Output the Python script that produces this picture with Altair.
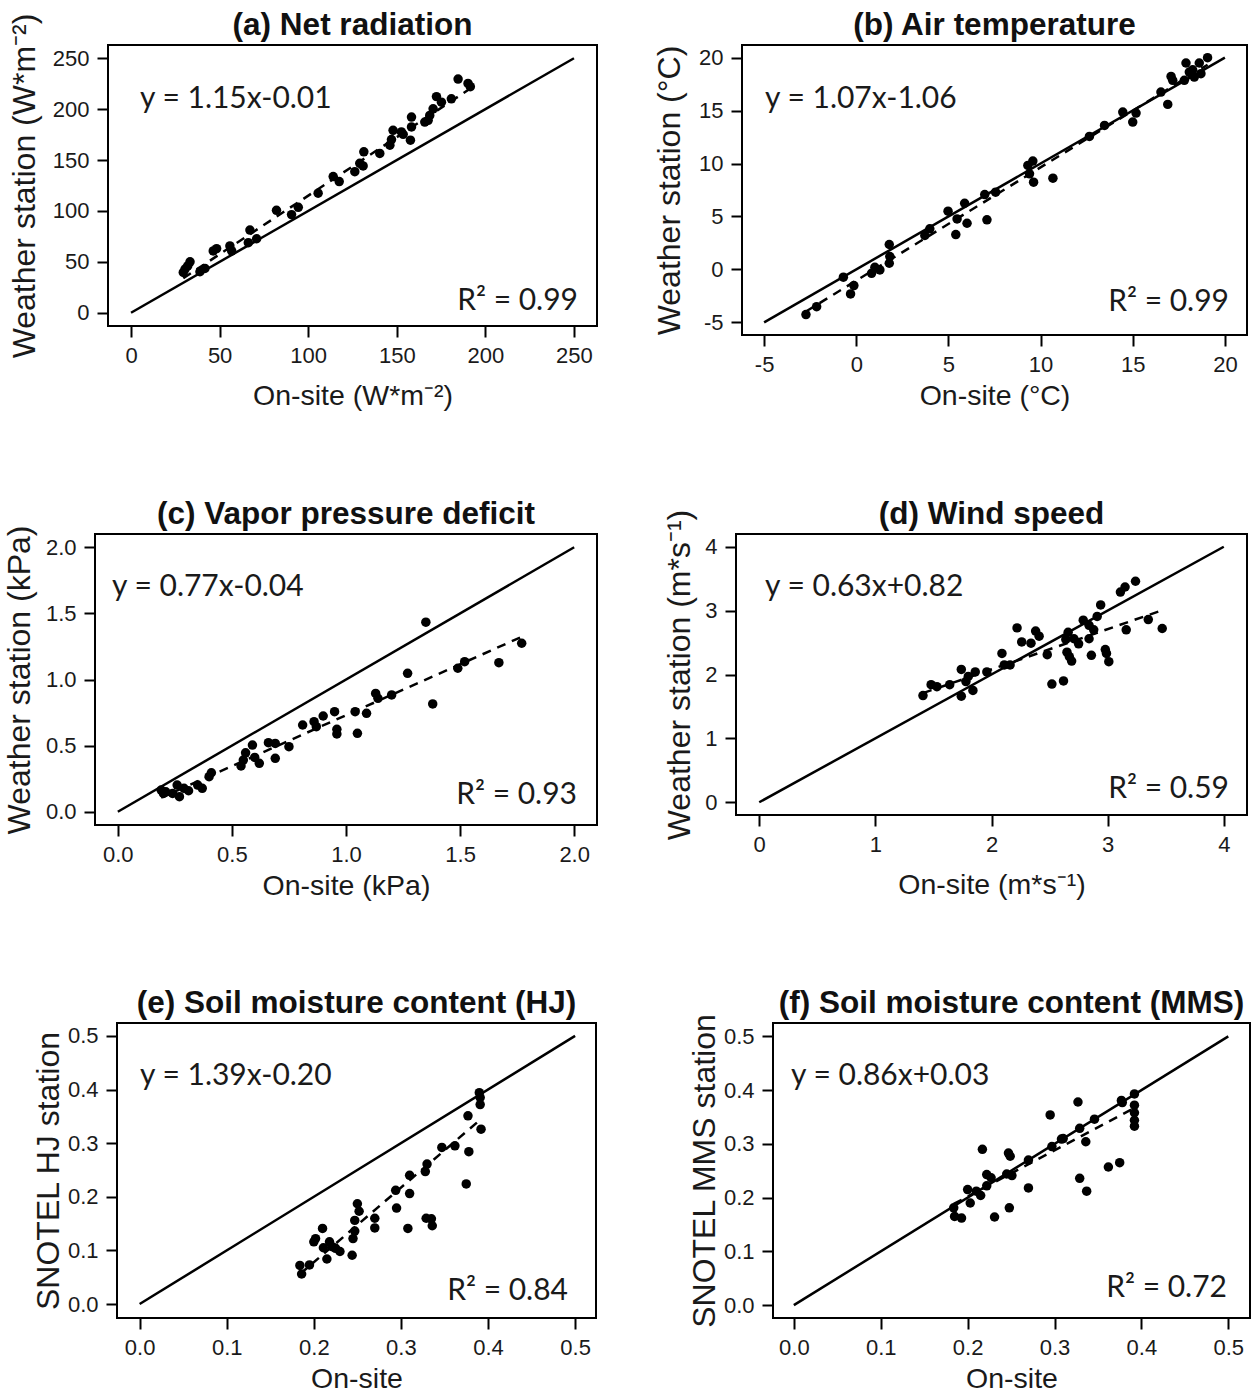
import altair as alt
import pandas as pd

FONT = "Liberation Sans"
EQ_FONT = "Lato"

# ---------------- data ----------------
a_on = [29.5, 30.5, 32, 33.3, 38.9, 41.7, 46.4, 48.3, 55.8, 56.8, 66.2, 67.1, 70.9, 82.1, 90.6, 94.4,
        105.6, 114.1, 117.5, 126.3, 129.1, 131, 131.4, 140.4, 146.1, 147, 147.9, 152.6, 153.6, 157.7,
        158.3, 158.3, 165.8, 167.7, 168.6, 170.5, 172.4, 175.2, 180.8, 184.6, 190.2, 191.5]
a_ws = [39.6, 42.9, 46, 50, 40.3, 43.5, 60.7, 63, 65.6, 60.7, 68.8, 81.2, 72.7, 100.6, 96.4, 103.6,
        117.5, 133.8, 128.9, 138.6, 146.8, 144.2, 158.1, 156.5, 164.6, 170.1, 179.2, 177.6, 175.3, 169.5,
        182.5, 192.2, 187.3, 189, 193.8, 200.3, 212.3, 206.8, 210.1, 229.5, 225.3, 222.1]

b_on = [-2.73, -2.15, -0.70, -0.31, -0.13, 0.83, 1.01, 1.28, 1.79, 1.82, 1.79, 3.72, 3.99, 4.98, 5.40,
        5.47, 5.88, 6.01, 6.97, 7.09, 7.56, 9.31, 9.40, 9.58, 9.62, 10.67, 12.65, 13.47, 14.46, 15.00,
        15.18, 16.53, 16.90, 17.08, 17.17, 17.80, 18.07, 18.25, 18.34, 17.89, 18.61, 18.70, 19.06]
b_ws = [-4.27, -3.52, -0.74, -2.32, -1.53, -0.37, 0.20, -0.05, 2.35, 1.21, 0.58, 3.20, 3.83, 5.50, 3.29,
        4.77, 6.25, 4.36, 7.07, 4.68, 7.29, 9.82, 9.03, 10.23, 8.24, 8.62, 12.56, 13.60, 14.86, 13.92,
        14.77, 16.75, 15.59, 18.23, 17.86, 17.86, 18.64, 18.86, 18.17, 19.50, 19.50, 18.49, 20.0]

c_on = [0.19, 0.20, 0.21, 0.24, 0.26, 0.27, 0.29, 0.31, 0.35, 0.37, 0.40, 0.41, 0.54, 0.55, 0.56, 0.59,
        0.62, 0.60, 0.66, 0.69, 0.69, 0.75, 0.81, 0.86, 0.87, 0.90, 0.95, 0.96, 0.96, 1.04, 1.05, 1.09,
        1.13, 1.14, 1.20, 1.27, 1.35, 1.38, 1.49, 1.52, 1.67, 1.77]
c_ws = [0.164, 0.139, 0.151, 0.139, 0.202, 0.114, 0.177, 0.159, 0.202, 0.177, 0.265, 0.295, 0.346, 0.391,
        0.446, 0.504, 0.366, 0.411, 0.522, 0.517, 0.404, 0.492, 0.656, 0.681, 0.643, 0.724, 0.757, 0.623,
        0.588, 0.757, 0.593, 0.744, 0.895, 0.858, 0.883, 1.047, 1.433, 0.815, 1.085, 1.135, 1.127, 1.274]

d_on = [1.41, 1.48, 1.53, 1.64, 1.74, 1.74, 1.78, 1.80, 1.84, 1.86, 1.96, 2.09, 2.11, 2.16, 2.22, 2.26,
        2.34, 2.38, 2.41, 2.48, 2.52, 2.62, 2.64, 2.66, 2.65, 2.67, 2.69, 2.71, 2.75, 2.79, 2.84, 2.84,
        2.86, 2.88, 2.91, 2.94, 2.98, 2.99, 3.01, 3.11, 3.15, 3.24, 3.16, 3.35, 3.47]
d_ws = [1.67, 1.84, 1.81, 1.84, 2.08, 1.66, 1.89, 1.97, 1.75, 2.04, 2.04, 2.33, 2.15, 2.15, 2.73, 2.51,
        2.49, 2.68, 2.60, 2.31, 1.85, 1.90, 2.55, 2.66, 2.35, 2.28, 2.21, 2.56, 2.48, 2.85, 2.77, 2.56,
        2.30, 2.70, 2.91, 3.09, 2.39, 2.33, 2.20, 3.29, 3.37, 3.46, 2.70, 2.86, 2.72]

e_on = [0.184, 0.186, 0.195, 0.200, 0.202, 0.210, 0.211, 0.215, 0.218, 0.221, 0.225, 0.230, 0.244, 0.245,
        0.247, 0.247, 0.250, 0.252, 0.270, 0.270, 0.295, 0.294, 0.308, 0.310, 0.310, 0.328, 0.330, 0.329,
        0.336, 0.335, 0.347, 0.362, 0.375, 0.377, 0.378, 0.390, 0.391, 0.391, 0.392]
e_ws = [0.072, 0.056, 0.073, 0.116, 0.122, 0.141, 0.105, 0.084, 0.116, 0.107, 0.104, 0.098, 0.091, 0.122,
        0.136, 0.156, 0.187, 0.173, 0.142, 0.160, 0.179, 0.212, 0.141, 0.206, 0.240, 0.247, 0.261, 0.160,
        0.146, 0.159, 0.292, 0.295, 0.224, 0.351, 0.284, 0.394, 0.385, 0.372, 0.326]

f_on = [0.184, 0.185, 0.193, 0.200, 0.203, 0.210, 0.215, 0.222, 0.222, 0.227, 0.217, 0.231, 0.245, 0.247,
        0.249, 0.248, 0.251, 0.270, 0.270, 0.295, 0.297, 0.308, 0.310, 0.327, 0.329, 0.329, 0.336, 0.337,
        0.346, 0.362, 0.375, 0.377, 0.378, 0.392, 0.392, 0.392, 0.392, 0.392]
f_ws = [0.181, 0.165, 0.162, 0.215, 0.190, 0.212, 0.204, 0.222, 0.243, 0.237, 0.290, 0.164, 0.244, 0.283,
        0.277, 0.181, 0.241, 0.270, 0.218, 0.354, 0.295, 0.309, 0.310, 0.378, 0.329, 0.236, 0.304, 0.212,
        0.346, 0.257, 0.265, 0.381, 0.377, 0.393, 0.372, 0.358, 0.344, 0.333]

titles = ["(a) Net radiation", "(b) Air temperature", "(c) Vapor pressure deficit",
          "(d) Wind speed", "(e) Soil moisture content (HJ)", "(f) Soil moisture content (MMS)"]
x_titles = ["On-site (W*m\u207b\u00b2)", "On-site (\u00b0C)", "On-site (kPa)",
            "On-site (m*s\u207b\u00b9)", "On-site", "On-site"]
y_titles = ["Weather station (W*m\u207b\u00b2)", "Weather station (\u00b0C)", "Weather station (kPa)",
            "Weather station (m*s\u207b\u00b9)", "SNOTEL HJ station", "SNOTEL MMS station"]
slopes = [1.15, 1.07, 0.77, 0.63, 1.39, 0.86]
intercepts = [-0.01, -1.06, -0.04, 0.82, -0.20, 0.03]
eq_texts = ["y = 1.15x-0.01", "y = 1.07x-1.06", "y = 0.77x-0.04",
            "y = 0.63x+0.82", "y = 1.39x-0.20", "y = 0.86x+0.03"]
r2_texts = ["R\u00b2 = 0.99", "R\u00b2 = 0.99", "R\u00b2 = 0.93",
            "R\u00b2 = 0.59", "R\u00b2 = 0.84", "R\u00b2 = 0.72"]
tick_values = [[0, 50, 100, 150, 200, 250], [-5, 0, 5, 10, 15, 20], [0.0, 0.5, 1.0, 1.5, 2.0],
               [0, 1, 2, 3, 4], [0.0, 0.1, 0.2, 0.3, 0.4, 0.5], [0.0, 0.1, 0.2, 0.3, 0.4, 0.5]]
one_to_one = [[0, 250], [-5, 20], [0, 2], [0, 4], [0, 0.5], [0, 0.5]]

# ---------------- layout / style (pixels) ----------------
domains = [[-13, 263], [-6.2, 21.2], [-0.1, 2.1], [-0.2, 4.2], [-0.026, 0.524], [-0.024, 0.525]]
formats = ["d", "d", ".1f", "d", ".1f", ".1f"]
sizes = [(489, 281), (505, 290), (502, 291), (511, 281), (479, 295), (477, 295)]
# extra empty room left of the frame (left column shares one origin)
extras = [13, 0, 0, 0, 22, 0]
eq_pos = [(32, 54), (23, 54), (17, 53), (29, 53), (23, 53), (18, 53)]
r2_pos = [(470, 256), (487, 257), (482, 261), (493, 255), (451, 268), (454, 265)]
y_title_x = [-74, -63, -66, -47, -59, -59]
x_title_pad = [15, 6, 6, 15, 6, 6]
# invisible layout anchors: (left, top, bottom or None) offsets from the view origin
anchors = [(-95, -45, 439), (-134, -45, None), (-95, -50, 441),
           (-128, -50, None), (-95, -48, None), (-165, -48, None)]

xs = [a_on, b_on, c_on, d_on, e_on, f_on]
ys = [a_ws, b_ws, c_ws, d_ws, e_ws, f_ws]


def spacer(x, y, baseline):
    return alt.Chart(pd.DataFrame({"t": ["."]})).mark_text(
        align="left", baseline=baseline, fontSize=1, opacity=0
    ).encode(text="t:N", x=alt.value(x), y=alt.value(y))


def panel(i):
    lo_d, hi_d = domains[i]
    w, h = sizes[i]
    ex = extras[i]
    vw = w + ex
    xdom = [lo_d - ex * (hi_d - lo_d) / w, hi_d]

    pts = pd.DataFrame({"x": xs[i], "y": ys[i]})
    lo, hi = one_to_one[i]
    ident = pd.DataFrame({"x": [lo, hi], "y": [lo, hi]})
    x0, x1 = min(xs[i]), max(xs[i])
    fit = pd.DataFrame({"x": [x0, x1],
                        "y": [slopes[i] * x0 + intercepts[i], slopes[i] * x1 + intercepts[i]]})

    lab = "replace(datum.label, '\u2212', '-')"
    X = alt.X("x:Q", scale=alt.Scale(domain=xdom, nice=False, zero=False),
              axis=alt.Axis(values=tick_values[i], format=formats[i], title=x_titles[i],
                            titlePadding=x_title_pad[i], labelExpr=lab, titleX=ex + w / 2))
    Y = alt.Y("y:Q", scale=alt.Scale(domain=[lo_d, hi_d], nice=False, zero=False),
              axis=alt.Axis(values=tick_values[i], format=formats[i], title=y_titles[i],
                            titleX=y_title_x[i], titleBaseline="alphabetic", labelExpr=lab,
                            titleFontSize=32, offset=-ex))

    frame = alt.Chart(pd.DataFrame({"k": [0]})).mark_rect(
        fillOpacity=0, stroke="black", strokeWidth=2
    ).encode(x=alt.value(ex), x2=alt.value(ex + w), y=alt.value(0), y2=alt.value(h))
    l_id = alt.Chart(ident).mark_line(color="black", strokeWidth=2.5).encode(x=X, y=Y)
    l_fit = alt.Chart(fit).mark_line(color="black", strokeWidth=2.5,
                                     strokeDash=[9, 7]).encode(x=X, y=Y)
    l_pts = alt.Chart(pts).mark_circle(color="black", size=90, opacity=1).encode(x=X, y=Y)
    eq = alt.Chart(pd.DataFrame({"t": [eq_texts[i]]})).mark_text(
        font=EQ_FONT, fontSize=30, align="left", baseline="middle", color="#1a1a1a"
    ).encode(text="t:N", x=alt.value(ex + eq_pos[i][0]), y=alt.value(eq_pos[i][1]))
    r2 = alt.Chart(pd.DataFrame({"t": [r2_texts[i]]})).mark_text(
        font=EQ_FONT, fontSize=30, align="right", baseline="middle", color="#1a1a1a"
    ).encode(text="t:N", x=alt.value(ex + r2_pos[i][0]), y=alt.value(r2_pos[i][1]))
    ttl = alt.Chart(pd.DataFrame({"t": [titles[i]]})).mark_text(
        font=FONT, fontSize=31.5, fontWeight="bold", align="center", baseline="alphabetic",
        color="#111111"
    ).encode(text="t:N", x=alt.value(ex + w / 2), y=alt.value(-10))

    ax, at, ab = anchors[i]
    layers = [frame, l_id, l_fit, l_pts, eq, r2, ttl,
              spacer(ax, h / 2, "middle"), spacer(0, at, "top")]
    if ab is not None:
        layers.append(spacer(0, ab, "bottom"))

    return alt.layer(*layers).properties(width=vw, height=h)


chart = alt.concat(
    *[panel(i) for i in range(6)],
    columns=2,
    spacing={"row": 0, "column": 10},
    align={"row": "each", "column": "none"},
).properties(
    padding=0,
    background="white",
).configure_view(
    strokeWidth=0
).configure_axis(
    domain=False, grid=False, ticks=True, tickColor="black", tickSize=11, tickWidth=2,
    labelFont=FONT, labelFontSize=22, labelColor="#1a1a1a", labelPadding=8,
    titleFont=FONT, titleFontSize=28.5, titleFontWeight="normal", titleColor="#1a1a1a",
)

chart.save("out.html", embed_options={"renderer": "svg", "actions": False})
